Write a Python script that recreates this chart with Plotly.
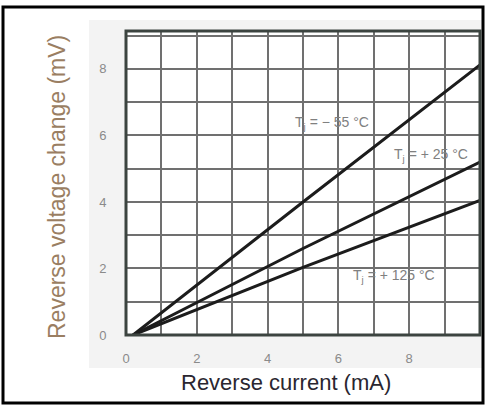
import plotly.graph_objects as go

# Data
current_ma = [0.2, 5, 10]
dv_m55 = [0, 4.0, 8.12]
dv_p25 = [0, 2.6, 5.2]
dv_p125 = [0, 2.03, 4.05]

series_names = ["T<sub>j</sub> = − 55 °C", "T<sub>j</sub> = + 25 °C", "T<sub>j</sub> = + 125 °C"]
label_x = [5.82, 8.62, 7.57]
label_y = [6.38, 5.41, 1.77]

x_tickvals = [0, 2, 4, 6, 8]
x_ticktext = ["0", "2", "4", "6", "8"]
y_tickvals = [0, 2, 4, 6, 8]
y_ticktext = ["0", "2", "4", "6", "8"]

W, H = 485, 405
L, R, T, B = 126, 5, 31, 70
pw, ph = W - L - R, H - T - B

def px(xp):
    return (xp - L) / pw

def py(yp):
    return (H - B - yp) / ph

fig = go.Figure()
for ys, name in zip([dv_m55, dv_p25, dv_p125], series_names):
    fig.add_trace(go.Scatter(x=current_ma, y=ys, mode="lines", name=name,
                             line=dict(color="#1c1c1c", width=3), showlegend=False))

for name, lx, ly in zip(series_names, label_x, label_y):
    fig.add_annotation(x=lx, y=ly, xref="x", yref="y", text=name, showarrow=False,
                       xanchor="center", yanchor="middle",
                       font=dict(family="Liberation Sans", size=14, color="#808080"))

# axis titles as annotations
fig.add_annotation(x=px(286), y=py(382), xref="paper", yref="paper",
                   text="Reverse current (mA)", showarrow=False,
                   xanchor="center", yanchor="middle",
                   font=dict(family="Liberation Sans", size=22, color="#2a2630"))
fig.add_annotation(x=px(57), y=py(187), xref="paper", yref="paper",
                   text="Reverse voltage change (mV)", showarrow=False, textangle=-90,
                   xanchor="center", yanchor="middle",
                   font=dict(family="Liberation Sans", size=23, color="#9a7e62"))

# panel, plot background and outer frame
fig.add_shape(type="rect", xref="paper", yref="paper",
              x0=px(89), x1=px(482), y0=py(368), y1=py(20),
              fillcolor="#f3f3f3", line=dict(width=0), layer="below")
fig.add_shape(type="rect", xref="paper", yref="paper",
              x0=0, x1=1, y0=0, y1=1,
              fillcolor="white", line=dict(width=0), layer="below")
fig.add_shape(type="rect", xref="paper", yref="paper",
              x0=px(3), x1=px(483), y0=py(403), y1=py(7),
              fillcolor="rgba(0,0,0,0)", line=dict(color="#000000", width=3))
fig.add_shape(type="rect", xref="paper", yref="paper",
              x0=0, x1=1, y0=0, y1=1,
              fillcolor="rgba(0,0,0,0)", line=dict(color="#3c4440", width=3))

grid_color = "#707070"
axis_common = dict(showgrid=True, gridcolor=grid_color, gridwidth=2, zeroline=False,
                   showline=False, ticks="outside", tickcolor="rgba(0,0,0,0)",
                   tickfont=dict(family="Liberation Sans", size=13, color="#8a8a8a"),
                   minor=dict(dtick=1, showgrid=True, gridcolor=grid_color, gridwidth=2,
                              ticks=""),
                   fixedrange=True)

fig.update_xaxes(range=[0, 10], tickvals=x_tickvals, ticktext=x_ticktext, ticklen=11, **axis_common)
fig.update_yaxes(range=[0, 9.14], tickvals=y_tickvals, ticktext=y_ticktext, ticklen=16, **axis_common)

fig.update_layout(width=W, height=H, margin=dict(l=L, r=R, t=T, b=B, autoexpand=False),
                  paper_bgcolor="white", plot_bgcolor="white", showlegend=False)

fig.write_html("out.html", config={"displayModeBar": False},
               post_script="document.body.style.margin='0';document.body.style.padding='0';")
